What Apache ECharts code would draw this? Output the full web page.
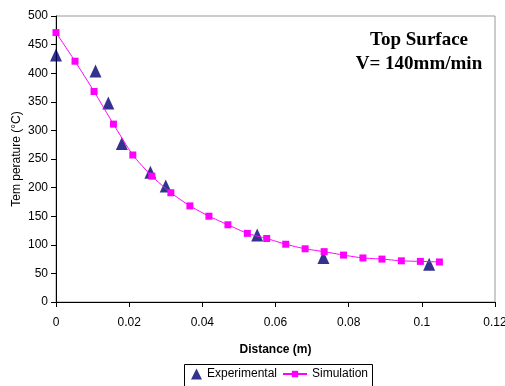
<!DOCTYPE html>
<html>
<head>
<meta charset="utf-8">
<script src="https://cdn.jsdelivr.net/npm/echarts@6/dist/echarts.min.js"></script>
<style>
  html, body { margin: 0; padding: 0; background: #fff; }
  #chart { width: 505px; height: 386px; }
</style>
</head>
<body>
<div id="chart"></div>
<script>
// simulation curve (distance m, temperature °C)
const simX = [0, 0.0052, 0.0104, 0.0157, 0.021, 0.0262, 0.0314, 0.0366, 0.0418, 0.047, 0.0523,
  0.0576, 0.0628, 0.0681, 0.0733, 0.0786, 0.0839, 0.0891, 0.0944, 0.0996, 0.1048]
const simT = [471, 421, 368, 311, 257, 220, 191, 168, 150, 135, 120,
  111, 101, 93, 88, 82, 77, 75, 72, 71, 70]

// experimental measurements
const expX = [0, 0.0108, 0.0143, 0.018, 0.0258, 0.030, 0.055, 0.0731, 0.102]
const expT = [432, 404, 348, 277, 227, 203, 117, 78, 66]

const xTicks = [0, 0.02, 0.04, 0.06, 0.08, 0.1, 0.12]

const font = "'Liberation Sans', Arial, sans-serif"

const chart = echarts.init(document.getElementById('chart'))

chart.setOption({
  animation: false,
  textStyle: { fontFamily: font },
  grid: {
    left: 56,
    right: 10,
    top: 16,
    bottom: 84,
    outerBoundsMode: 'none',
    containLabel: false,
    show: true,
    borderColor: '#999',
    borderWidth: 1
  },
  title: {
    text: 'Top Surface\nV= 140mm/min',
    left: 414,
    top: 23,
    textAlign: 'center',
    textStyle: {
      fontFamily: "'Liberation Serif', 'Times New Roman', serif",
      fontWeight: 'bold',
      fontSize: 19,
      lineHeight: 24,
      color: '#000'
    }
  },
  graphic: [
    // legend frame
    {
      type: 'rect',
      left: 182,
      top: 362,
      shape: { width: 188, height: 28 },
      style: { fill: 'none', stroke: '#000', lineWidth: 1 },
      silent: true
    },
    // y axis title, placed close to the tick labels as in the original
    {
      type: 'text',
      x: 17,
      y: 159,
      rotation: Math.PI / 2,
      style: {
        text: 'Tem perature (°C)',
        fontFamily: font,
        fontSize: 12,
        fill: '#000',
        align: 'center',
        verticalAlign: 'middle'
      },
      silent: true
    }
  ],
  legend: [
    {
      left: 191,
      top: 368,
      itemWidth: 11,
      itemHeight: 11,
      itemGap: 4,
      padding: 0,
      textStyle: { fontSize: 12, color: '#000', fontFamily: font },
      data: [{ name: 'Experimental', icon: 'triangle', itemStyle: { color: '#000070' } }]
    },
    {
      left: 282,
      top: 368,
      itemWidth: 24,
      itemHeight: 8,
      padding: 0,
      textStyle: { fontSize: 12, color: '#000', fontFamily: font },
      data: [{ name: 'Simulation' }]
    }
  ],
  xAxis: {
    type: 'value',
    min: 0,
    max: 0.12,
    interval: 0.02,
    name: 'Distance (m)',
    nameLocation: 'middle',
    nameGap: 42,
    nameTextStyle: { fontSize: 12, color: '#000', fontWeight: 'bold' },
    axisLine: { lineStyle: { color: '#000', width: 1 } },
    axisTick: { show: true, inside: false, length: 5, lineStyle: { color: '#000' } },
    splitLine: { show: false },
    axisLabel: {
      fontSize: 12,
      color: '#000',
      margin: 15,
      formatter: v => {
        const t = xTicks.find(k => Math.abs(k - v) < 1e-9)
        return t === undefined ? '' : String(+t.toFixed(2))
      }
    }
  },
  yAxis: {
    type: 'value',
    min: 0,
    max: 500,
    interval: 50,
    axisLine: { show: true, lineStyle: { color: '#000', width: 1 } },
    axisTick: { show: true, length: 5, lineStyle: { color: '#000' } },
    splitLine: { show: false },
    axisLabel: { fontSize: 12, color: '#000', margin: 8 }
  },
  series: [
    {
      name: 'Experimental',
      type: 'scatter',
      symbol: 'triangle',
      symbolSize: [12, 13],
      itemStyle: { color: '#000070' },
      data: expX.map((x, i) => [x, expT[i]]),
      z: 3
    },
    {
      name: 'Simulation',
      type: 'line',
      symbol: 'rect',
      symbolSize: 7,
      smooth: 0.2,
      itemStyle: { color: '#ff00ff' },
      lineStyle: { color: '#ff00ff', width: 1 },
      data: simX.map((x, i) => [x, simT[i]]),
      z: 4
    }
  ]
})
</script>
</body>
</html>
